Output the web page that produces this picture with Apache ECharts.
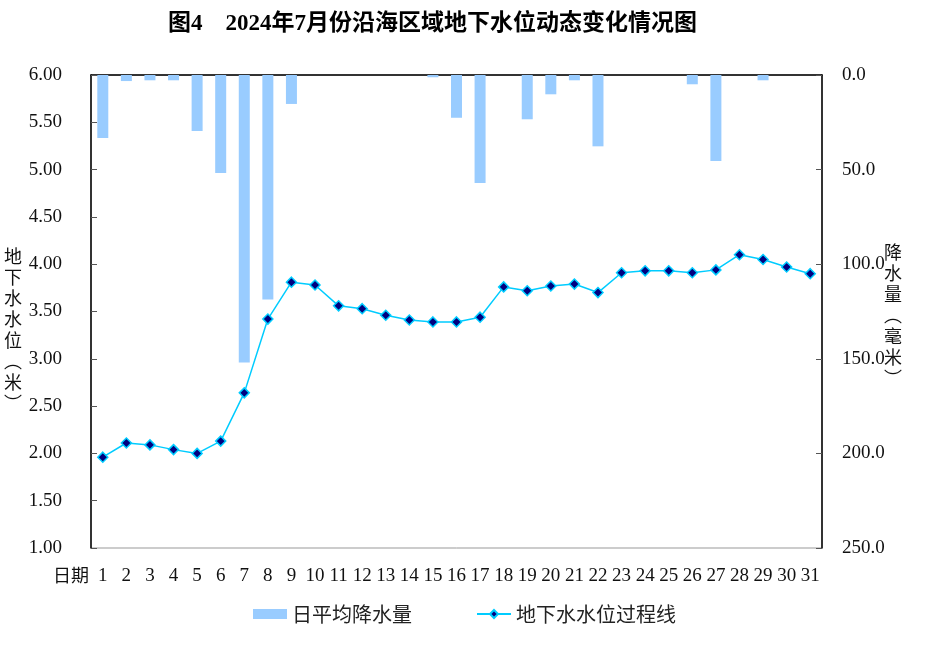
<!DOCTYPE html>
<html>
<head>
<meta charset="utf-8">
<script src="https://cdn.jsdelivr.net/npm/echarts@6/dist/echarts.min.js"></script>
<style>html,body{margin:0;padding:0;background:#fff}#c{width:927px;height:645px}</style>
</head>
<body>
<div id="c"></div>
<script>
const days = ['1','2','3','4','5','6','7','8','9','10','11','12','13','14','15','16','17','18','19','20','21','22','23','24','25','26','27','28','29','30','31'];
const rainfall = [33.3, 3.2, 2.8, 2.8, 29.6, 51.8, 152.0, 118.7, 15.3, 0, 0, 0, 0, 0, 1.2, 22.6, 57.1, 0, 23.4, 10.2, 2.8, 37.7, 0, 0, 0, 4.9, 45.5, 0, 2.8, 0, 0];
const waterLevel = [1.96, 2.11, 2.09, 2.04, 2.00, 2.13, 2.64, 3.42, 3.81, 3.78, 3.56, 3.53, 3.46, 3.41, 3.39, 3.39, 3.44, 3.76, 3.72, 3.77, 3.79, 3.70, 3.91, 3.93, 3.93, 3.91, 3.94, 4.10, 4.05, 3.97, 3.90];
const titleText = '图4　2024年7月份沿海区域地下水位动态变化情况图';
const leftName = ['地','下','水','水','位','︵','米','︶'];
const rightName = ['降','水','量','︵','毫','米','︶'];

const numFont = 'Liberation Serif, Noto Sans CJK SC, serif';
const cjkFont = 'Noto Sans CJK SC, sans-serif';

const chart = echarts.init(document.getElementById('c'));
chart.setOption({
  animation: false,
  backgroundColor: '#fff',
  title: {
    text: titleText,
    left: 163, top: 8,
    textStyle: { fontFamily: numFont, fontWeight: 'bold', fontSize: 23, color: '#000' }
  },
  grid: { left: 91, right: 105, top: 75, bottom: 97, show: true, borderColor: '#999', borderWidth: 1 },
  legend: {
    left: 248, top: 599, itemGap: 64, itemWidth: 34, itemHeight: 10,
    textStyle: { fontFamily: cjkFont, fontSize: 20, color: '#222' },
    data: [
      { name: '日平均降水量', icon: 'rect' },
      { name: '地下水水位过程线' }
    ]
  },
  xAxis: {
    type: 'category', data: days, boundaryGap: true,
    axisLine: { lineStyle: { color: '#000', width: 1.5 } },
    axisTick: { inside: true, length: 5, lineStyle: { color: '#555' } },
    axisLabel: { fontFamily: numFont, fontSize: 19, color: '#111', margin: 19, interval: 0 }
  },
  yAxis: [
    {
      type: 'value', min: 1, max: 6, interval: 0.5, position: 'left',
      axisLine: { show: true, lineStyle: { color: '#000', width: 1.5 } },
      axisTick: { show: true, inside: true, length: 6, lineStyle: { color: '#555' } },
      splitLine: { show: false },
      axisLabel: { fontFamily: numFont, fontSize: 19, color: '#111', margin: 29, formatter: v => v.toFixed(2) }
    },
    {
      type: 'value', min: 0, max: 250, interval: 50, inverse: true, position: 'right',
      axisLine: { show: true, lineStyle: { color: '#000', width: 1.5 } },
      axisTick: { show: true, inside: true, length: 6, lineStyle: { color: '#555' } },
      splitLine: { show: false },
      axisLabel: { fontFamily: numFont, fontSize: 19, color: '#111', margin: 20, formatter: v => v.toFixed(1) }
    }
  ],
  graphic: [
    { type: 'text', left: 4, top: 246, style: { text: leftName.join('\n'), fontFamily: cjkFont, fontSize: 18, lineHeight: 21, fill: '#111', align: 'center' } },
    { type: 'text', left: 884, top: 242, style: { text: rightName.join('\n'), fontFamily: cjkFont, fontSize: 18, lineHeight: 21, fill: '#111', align: 'center' } },
    { type: 'text', left: 53, top: 566, style: { text: '日期', fontFamily: cjkFont, fontSize: 18, fill: '#111' } }
  ],
  series: [
    {
      name: '日平均降水量', type: 'bar', yAxisIndex: 1, data: rainfall, barWidth: 11,
      itemStyle: { color: '#99ccff' }
    },
    {
      name: '地下水水位过程线', type: 'line', yAxisIndex: 0, data: waterLevel,
      symbol: 'diamond', symbolSize: 10,
      lineStyle: { color: '#00ccff', width: 1.5 },
      itemStyle: { color: '#000080', borderColor: '#00ccff', borderWidth: 1.5 }
    }
  ]
});
</script>
</body>
</html>
